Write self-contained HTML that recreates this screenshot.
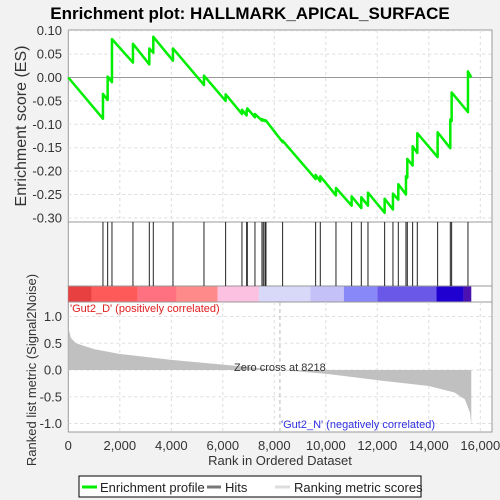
<!DOCTYPE html>
<html><head><meta charset="utf-8"><style>
body{margin:0;background:#f2f2f2;}
svg{display:block;font-family:"Liberation Sans",sans-serif;}
</style></head><body>
<svg id="c" width="500" height="500" xmlns="http://www.w3.org/2000/svg"></svg>
<script>
const hitRanks=[1346,1528,1696,2511,3146,3301,4065,5269,6110,6744,6926,6952,7249,7521,7573,7638,7676,8323,9605,9786,10395,11003,11379,11638,12285,12608,12816,13113,13165,13372,13553,14343,14835,14887,15521];
const esBefore=[-0.088,-0.048,-0.010,0.032,0.028,0.053,0.036,-0.016,-0.050,-0.078,-0.081,-0.072,-0.085,-0.092,-0.092,-0.093,-0.093,-0.138,-0.217,-0.222,-0.252,-0.274,-0.279,-0.274,-0.289,-0.282,-0.261,-0.250,-0.214,-0.188,-0.161,-0.170,-0.151,-0.093,-0.074];
const esAfter=[-0.035,0.002,0.082,0.072,0.062,0.087,0.062,0.004,-0.036,-0.069,-0.070,-0.066,-0.078,-0.089,-0.090,-0.091,-0.092,-0.135,-0.208,-0.211,-0.236,-0.254,-0.256,-0.246,-0.259,-0.248,-0.228,-0.211,-0.174,-0.147,-0.119,-0.117,-0.090,-0.032,0.013];
const metricRanks=[0,100,300,1000,2000,4000,6000,8218,10000,12000,14000,15000,15400,15600,15650];
const metricVals=[0.8,0.6,0.5,0.39,0.30,0.19,0.10,0,-0.07,-0.19,-0.30,-0.42,-0.55,-0.8,-1.02];
const esTicks=[0.10,0.05,0.00,-0.05,-0.10,-0.15,-0.20,-0.25,-0.30];
const metricTicks=[1.0,0.5,0.0,-0.5,-1.0];
const xTicks=[0,2000,4000,6000,8000,10000,12000,14000,16000];
const bandStops=[0,900,2700,4200,5800,7400,9400,10700,12000,14300,15350,15650];
const bandColors=["#e84040","#ff5a5a","#ff7080","#ff8a8a","#fcc0e0","#d8d8f8","#c4c0f8","#8888f8","#6a58e8","#2000d0","#4a10b0"];
const totalN=15650, zeroCross=8218;

const L=68.3,R=492;
const X=r=>L+r*0.02575;
const YE=v=>30.7+(0.10-v)*468;
const YM=v=>370-v*53.5;
const svg=document.getElementById('c');
const NS='http://www.w3.org/2000/svg';
function add(tag,attrs,name,text){const e=document.createElementNS(NS,tag);for(const k in attrs)e.setAttribute(k,attrs[k]);


if(text!==undefined)e.textContent=text;svg.appendChild(e);return e;}

add('text',{x:250,y:19,'text-anchor':'middle','font-size':17,'font-weight':'bold',fill:'#000'},'chart-title','Enrichment plot: HALLMARK_APICAL_SURFACE');
// panels
add('rect',{x:L,y:30,width:R-L,height:192,fill:'#fff',stroke:'#999'},'es-panel');
add('rect',{x:L,y:222,width:R-L,height:64,fill:'#fff',stroke:'#999'},'hits-panel');
add('rect',{x:L,y:286,width:R-L,height:16,fill:'#fff',stroke:'#999'},'color-band-panel');
add('rect',{x:L,y:302,width:R-L,height:130,fill:'#fff',stroke:'#999'},'metric-panel');
// grid
xTicks.forEach(t=>{if(t===0)return;
add('line',{x1:X(t),x2:X(t),y1:30,y2:222,stroke:'#ddd','stroke-dasharray':'3,3'},'es-grid-x');
add('line',{x1:X(t),x2:X(t),y1:302,y2:432,stroke:'#ddd','stroke-dasharray':'3,3'},'metric-grid-x');});
esTicks.forEach(t=>{add('line',{x1:L,x2:R,y1:YE(t),y2:YE(t),stroke:t===0?'#999':'#ddd','stroke-dasharray':t===0?'':'3,3'},'es-grid-y');
add('text',{x:62,y:YE(t)+4.5,'text-anchor':'end','font-size':13,fill:'#333'},'es-tick-label',t.toFixed(2));});
metricTicks.forEach(t=>{add('line',{x1:L,x2:R,y1:YM(t),y2:YM(t),stroke:'#ddd','stroke-dasharray':'3,3'},'metric-grid-y');
add('text',{x:62,y:YM(t)+4.5,'text-anchor':'end','font-size':13,fill:'#333'},'metric-tick-label',t.toFixed(1));});
xTicks.forEach(t=>add('text',{x:X(t),y:450,'text-anchor':'middle','font-size':13,fill:'#333'},'x-tick-label',t.toLocaleString('en-US')));
// ES line
let d='M'+X(0)+','+YE(0);
hitRanks.forEach((r,i)=>{d+=' L'+X(r)+','+YE(esBefore[i])+' L'+X(r)+','+YE(esAfter[i]);});
d+=' L'+X(totalN)+','+YE(0);
add('path',{d:d,fill:'none',stroke:'#00ee00','stroke-width':2.5,'stroke-linejoin':'round'},'enrichment-profile-line');
// hits
hitRanks.forEach(r=>add('line',{x1:X(r),x2:X(r),y1:222,y2:286,stroke:'#222','stroke-width':1},'hit-mark'));
// band
bandColors.forEach((c,i)=>add('rect',{x:X(bandStops[i]),y:286.5,width:X(bandStops[i+1])-X(bandStops[i]),height:15,fill:c},'color-band-segment'));
// metric area
let m='M'+X(0)+','+YM(0);
metricRanks.forEach((r,i)=>{m+=' L'+X(r)+','+YM(metricVals[i]);});
m+=' L'+X(totalN)+','+YM(0)+' Z';
add('path',{d:m,fill:'#c0c0c0',stroke:'none'},'ranked-metric-area');
add('line',{x1:X(zeroCross),x2:X(zeroCross),y1:302,y2:432,stroke:'#bbb','stroke-dasharray':'4,3'},'zero-cross-line');
add('text',{x:X(zeroCross),y:371,'text-anchor':'middle','font-size':11,fill:'#333'},'zero-cross-label','Zero cross at '+zeroCross);
add('text',{x:70,y:312,'font-size':11,fill:'#e02020'},'positive-label',"'Gut2_D' (positively correlated)");
add('text',{x:281,y:428,'font-size':11,fill:'#3030e0'},'negative-label',"'Gut2_N' (negatively correlated)");
// axis titles
add('text',{x:0,y:0,transform:'translate(26,126) rotate(-90)','text-anchor':'middle','font-size':16,fill:'#333'},'es-axis-title','Enrichment score (ES)');
add('text',{x:0,y:0,transform:'translate(36,370) rotate(-90)','text-anchor':'middle','font-size':13,fill:'#333'},'metric-axis-title','Ranked list metric (Signal2Noise)');
add('text',{x:280,y:465,'text-anchor':'middle','font-size':13,fill:'#333'},'x-axis-title','Rank in Ordered Dataset');
// legend
add('rect',{x:79,y:476,width:342,height:21,fill:'#fff',stroke:'#000'},'legend-box');
add('line',{x1:82,x2:97,y1:487,y2:487,stroke:'#00ee00','stroke-width':3},'legend-profile-swatch');
add('text',{x:100,y:492,'font-size':13,fill:'#222'},'legend-profile-label','Enrichment profile');
add('line',{x1:207,x2:221,y1:487,y2:487,stroke:'#777','stroke-width':3},'legend-hits-swatch');
add('text',{x:225,y:492,'font-size':13,fill:'#222'},'legend-hits-label','Hits');
add('line',{x1:275,x2:290,y1:487,y2:487,stroke:'#ddd','stroke-width':3},'legend-metric-swatch');
add('text',{x:294,y:492,'font-size':13,fill:'#222'},'legend-metric-label','Ranking metric scores');
</script>
</body></html>
